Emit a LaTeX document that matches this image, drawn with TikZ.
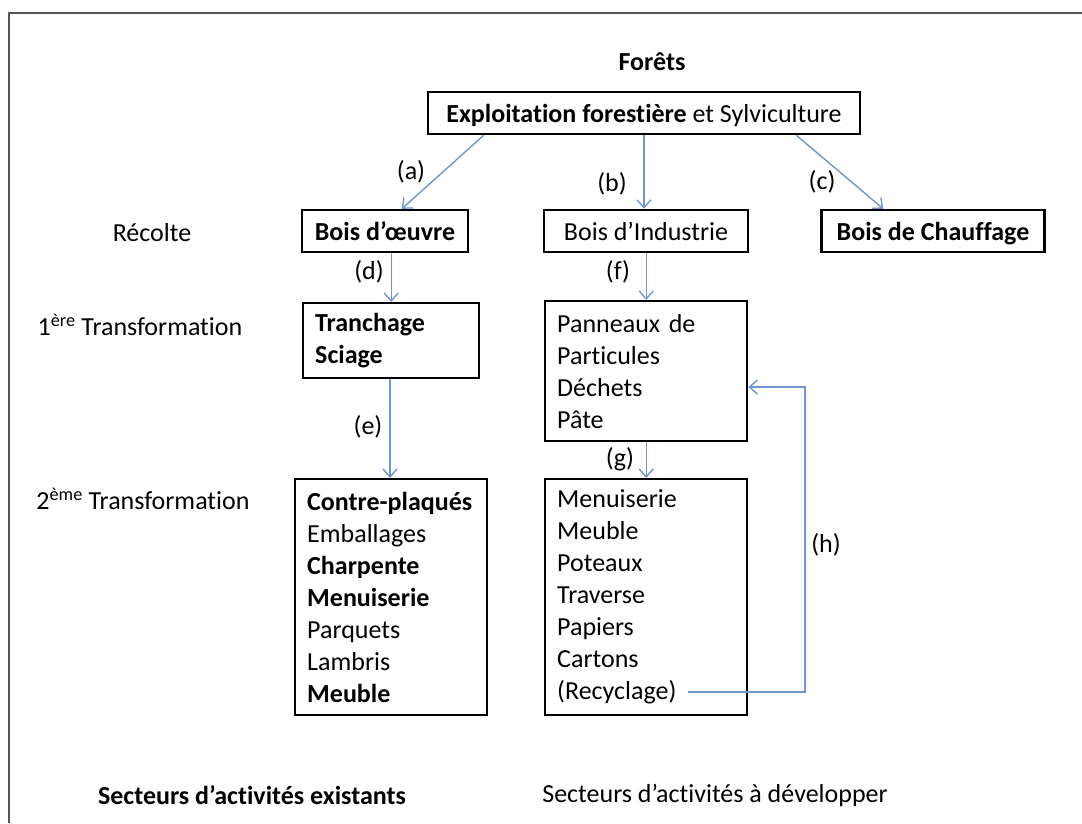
\documentclass[tikz,border=0pt]{standalone}
\usepackage{fontspec}
\setmainfont{Carlito}[Ligatures=NoCommon]
\usepackage{tikz}
\usetikzlibrary{arrows.meta,%
                positioning}
\definecolor{arrowblue}{RGB}{112,150,205}
\definecolor{framegray}{RGB}{85,85,85}

\begin{document}
\begin{tikzpicture}[x=1pt,y=-1pt,
  txt/.style={font=\fontsize{26}{32}\selectfont, inner sep=0pt},
  box/.style={txt, draw, line width=2.4pt, inner xsep=11pt},
  onebox/.style={box, minimum height=42pt, text height=20pt, text depth=2pt},
  listbox/.style={box, anchor=north west, align=left},
  arr/.style={arrowblue, line width=1.4pt, -{Straight Barb[length=8pt,width=14pt]}},
  lbl/.style={txt}]
\useasboundingbox (0,0) rectangle (1082,823);
%\fill[white] (0,0) rectangle (1082,823);
\draw[framegray, line width=2.5pt] (9,823) -- (9,13) -- (1082,13);

\node[lbl] (forets) at (652,62) {\textbf{Forêts}};
\node[onebox, minimum width=432pt] (top) at (644,113)
  {\textbf{Exploitation forestière} et Sylviculture};

\node[lbl] (recolte) at (152,233) {Récolte};
\node[onebox, minimum width=166pt] (oeuvre) at (385,231) {\textbf{Bois d’œuvre}};
\node[onebox, minimum width=204pt] (indus) at (646,231) {Bois d’Industrie};
\node[onebox, minimum width=223pt] (chauff) at (933,231) {\textbf{Bois de Chauffage}};

\node[lbl] (trans1) at (140,325) {1\textsuperscript{ère} Transformation};
\node[listbox, minimum width=176pt, minimum height=75pt, text width=152pt] (tranch) at (302,302)
  {\textbf{Tranchage}\\\textbf{Sciage}};
\node[listbox, minimum width=202pt, minimum height=140pt, text width=178pt] (panneaux) at (544,300)
  {Panneaux de\\Particules\\Déchets\\Pâte};

\node[lbl] (trans2) at (143,499) {2\textsuperscript{ème} Transformation};
\node[listbox, minimum width=192pt, minimum height=236pt, text width=168pt] (secdeux) at (294,478)
  {\textbf{Contre-plaqués}\\Emballages\\\textbf{Charpente}\\\textbf{Menuiserie}\\Parquets\\Lambris\\\textbf{Meuble}};
\node[listbox, minimum width=202pt, minimum height=236pt, text width=178pt] (usages) at (544,478)
  {Menuiserie\\Meuble\\Poteaux\\Traverse\\Papiers\\Cartons\\(Recyclage)};

\node[lbl] (existants) at (252,795) {\textbf{Secteurs d’activités existants}};
\node[lbl] (developper) at (715,795) {Secteurs d’activités à développer};

\draw[arr] ([xshift=57pt]top.south west) -- ([xshift=101pt]oeuvre.north west);
\draw[arr] (top.south) -- (top.south |- indus.north);
\draw[arr] ([xshift=-65pt]top.south east) -- ([xshift=63pt]chauff.north west);
\draw[arr] (tranch.north |- oeuvre.south) -- (tranch.north);
\draw[arr] (indus.south -| panneaux.north) -- (panneaux.north);
\draw[arr] (tranch.south -| 390,0) -- (secdeux.north -| 390,0);
\draw[arr] (panneaux.south) -- (usages.north);
\coordinate (rec) at (688,692);
\draw[arr] (rec) -- (805,692) -- (805,387) -- (panneaux.east |- 0,387);

\node[lbl] at (411,172) {(a)};
\node[lbl] at (612,184) {(b)};
\node[lbl] at (822,182) {(c)};
\node[lbl] at (369,272) {(d)};
\node[lbl] at (618,272) {(f)};
\node[lbl] at (368,427) {(e)};
\node[lbl] at (620,459) {(g)};
\node[lbl] at (826,545) {(h)};
\end{tikzpicture}
\end{document}
